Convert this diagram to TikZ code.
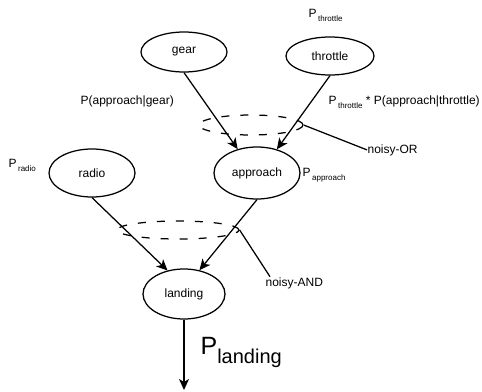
\documentclass[tikz,border=0pt]{standalone}
\usepackage{fontspec}
\setmainfont{Liberation Sans}
\usetikzlibrary{shapes.geometric, arrows.meta}

\newcommand{\prob}[1]{P\kern1.5pt\raisebox{-4pt}{\fontsize{8}{9}\selectfont #1}}

\begin{document}
\begin{tikzpicture}[x=1pt, y=-1pt, line width=1.25pt,
    var/.style={draw, ellipse, inner sep=0pt, font=\fontsize{12}{14}\selectfont},
    gate/.style={draw, ellipse, dash pattern=on 8pt off 11pt, inner sep=0pt},
    lbl/.style={inner sep=0pt, anchor=base west, font=\fontsize{12}{14}\selectfont},
    arr/.style={-{Stealth[length=11pt, width=10pt, inset=3pt]}}]
    \useasboundingbox (0,0) rectangle (482,391);

    % variables
    \node[var, minimum width=86pt, minimum height=40pt] (gear) at (184,52) {gear};
    \node[var, minimum width=88pt, minimum height=38pt] (throttle) at (330,56) {throttle};
    \node[var, minimum width=86pt, minimum height=52pt] (approach) at (257,173) {approach};
    \node[var, minimum width=86pt, minimum height=48pt] (radio) at (92,173) {radio};
    \node[var, minimum width=82pt, minimum height=50pt] (landing) at (184,294) {landing};
    \coordinate (out) at (184,390);

    % gates
    \node[gate, minimum width=104pt, minimum height=20pt] (or) at (251,125) {};
    \node[gate, minimum width=122pt, minimum height=18pt] (and) at (178,230) {};

    \draw[arr] (gear.south) -- (approach.129);
    \draw[arr] (throttle.south) -- (approach.50);
    \draw[arr] (radio.south) -- (landing.125);
    \draw[arr] (approach.south) -- (landing.57);
    \draw[arr] (landing.south) -- (out);

    % labels
    \node[lbl] (pthr) at (308,17.5) {\prob{throttle}};
    \node[lbl] (pgear) at (80,104) {P(approach|gear)};
    \node[lbl] (pthrapp) at (328,104) {\prob{throttle} * P(approach|throttle)};
    \node[lbl] (orlbl) at (367,153) {noisy-OR};
    \node[lbl] (prad) at (8,167) {\prob{radio}};
    \node[lbl] (papp) at (302,176) {\prob{approach}};
    \node[lbl] (andlbl) at (265,286) {noisy-AND};
    \node[lbl, font=\fontsize{25}{28}\selectfont] (pland) at (200,354)
        {P\raisebox{-9pt}{\fontsize{20}{22}\selectfont landing}};

    \draw (or.east) -- (orlbl.west);
    \draw (and.east) -- ([xshift=5pt]andlbl.north west);
\end{tikzpicture}
\end{document}
